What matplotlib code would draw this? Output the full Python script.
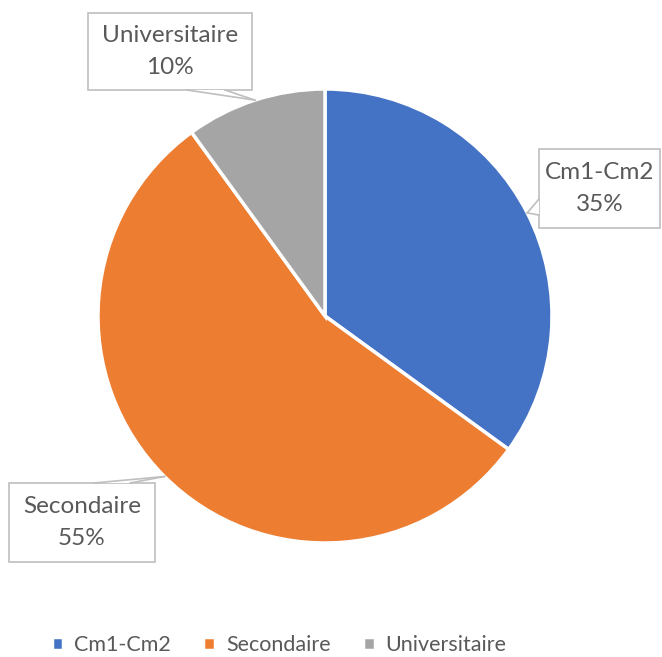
import numpy as np
import matplotlib.pyplot as plt
from matplotlib.patches import Rectangle, Polygon

# education levels and their share
labels = ['Cm1-Cm2', 'Secondaire', 'Universitaire']
shares = [35, 55, 10]
colors = ['#4472C4', '#ED7D31', '#A5A5A5']

W, H = 662, 657
fig = plt.figure(figsize=(W / 100, H / 100), dpi=100)
ax = fig.add_axes([0, 0, 1, 1])
ax.set_aspect('equal')
ax.axis('off')

plt.rcParams['font.family'] = ['Lato', 'DejaVu Sans']
txt_color = '#595959'

cx, cy, r = 325, H - 316, 227
wedges, _ = ax.pie(shares, colors=colors, startangle=90, counterclock=False,
                   center=(cx, cy), radius=r,
                   wedgeprops=dict(edgecolor='white', linewidth=2.5))
ax.set_xlim(0, W)
ax.set_ylim(0, H)

# callout boxes: (x0, y0, x1, y1) in pixels from top, side the pointer leaves from, base span
boxes = {
    'Cm1-Cm2': ((539, 149, 660, 228), 'left', (199, 215)),
    'Secondaire': ((9, 483, 155, 562), 'top', (94, 130)),
    'Universitaire': ((88, 13, 252, 90), 'bottom', (187, 225)),
}

edge = '#BFBFBF'
for w, lab, val in zip(wedges, labels, shares):
    mid = np.deg2rad((w.theta1 + w.theta2) / 2)
    tip = (cx + r * np.cos(mid), cy + r * np.sin(mid))
    (x0, y0, x1, y1), side, (b0, b1) = boxes[lab]
    Y0, Y1 = H - y1, H - y0
    ax.add_patch(Rectangle((x0, Y0), x1 - x0, Y1 - Y0, facecolor='white',
                           edgecolor=edge, linewidth=1.2, zorder=5))
    if side == 'left':
        base = [(x0, H - b0), (x0, H - b1)]
    elif side == 'top':
        base = [(b0, Y1), (b1, Y1)]
    else:
        base = [(b0, Y0), (b1, Y0)]
    ax.add_patch(Polygon([base[0], tip, base[1]], closed=True, facecolor='white',
                         edgecolor='none', zorder=6))
    for bx, by in base:
        ax.plot([bx, tip[0]], [by, tip[1]], color=edge, linewidth=1.2, zorder=7)
    ax.text((x0 + x1) / 2, (Y0 + Y1) / 2, f'{lab}\n{val}%', ha='center', va='center',
            fontsize=17.5, color=txt_color, linespacing=1.65, zorder=8)

leg = ax.legend(wedges, labels, loc='center', bbox_to_anchor=(279 / W, 1 - 645 / H),
                ncol=3, frameon=False, fontsize=15.5, handlelength=0.55, handleheight=0.55,
                handletextpad=0.5, columnspacing=1.5, borderaxespad=0)
for t in leg.get_texts():
    t.set_color(txt_color)

fig.savefig('out.png', dpi=100)
